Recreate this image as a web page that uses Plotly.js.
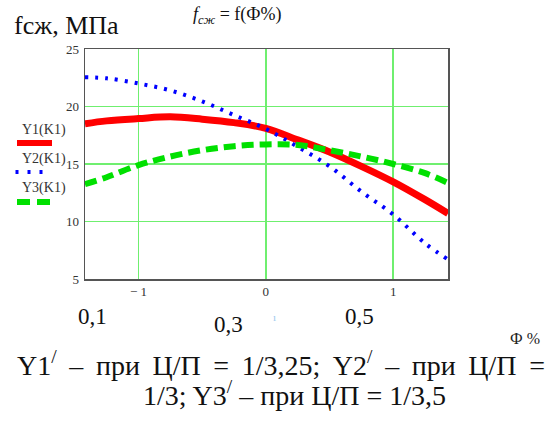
<!DOCTYPE html>
<html>
<head>
<meta charset="utf-8">
<script src="https://cdn.plot.ly/plotly-3.0.1.min.js"></script>
<style>
html,body{margin:0;padding:0;background:#fff;}
#chart{width:552px;height:423px;}
</style>
</head>
<body>
<div id="chart"></div>
<script>
// ---- data ----
const phi = [-1.42, -1.25, -1, -0.75, -0.5, -0.25, 0, 0.25, 0.5, 0.75, 1, 1.25, 1.43];
const Y1 = [18.5, 18.75, 18.95, 19.1, 18.9, 18.6, 18.1, 17.1, 16.05, 14.8, 13.45, 11.9, 10.7];
const Y2 = [22.55, 22.45, 22.0, 21.4, 20.45, 19.25, 18.05, 16.5, 14.8, 12.6, 10.6, 8.1, 6.7];
const Y3 = [13.25, 13.85, 14.9, 15.65, 16.2, 16.55, 16.7, 16.65, 16.2, 15.65, 15.0, 14.2, 13.35];
const seriesNames = ['Y1(K1)', 'Y2(K1)', 'Y3(K1)'];
const xTicks = [-1, 0, 1];
const yTicks = [5, 10, 15, 20, 25];
const bottomLabels = ['0,1', '0,3', '0,5'];

// ---- layout helpers (pixel -> paper) ----
const L = 85, R = 448, T = 49, B = 279;
const px = x => (x - L) / (R - L);
const py = y => (B - y) / (B - T);
const serif = '"Liberation Serif", "Times New Roman", Times, "DejaVu Serif", serif';
const ink = '#333333';
const js = s => s.split(' ').join(' \u2009'); // justified (stretched) spaces

const traces = [
  {x: phi, y: Y1, name: seriesNames[0], mode: 'lines', line: {color: '#ff0000', width: 7, shape: 'spline'}},
  {x: phi, y: Y2, name: seriesNames[1], mode: 'lines', line: {color: '#0000ff', width: 4, dash: '3px,7px', shape: 'spline'}},
  {x: phi, y: Y3, name: seriesNames[2], mode: 'lines', line: {color: '#00e000', width: 6, dash: '12px,6px', shape: 'spline'}}
];

const ann = (x, y, text, size, extra) => Object.assign({
  xref: 'paper', yref: 'paper', x: px(x), y: py(y), text: text, showarrow: false,
  xanchor: 'center', yanchor: 'middle', font: {family: serif, size: size, color: ink}
}, extra || {});

const annotations = [
  ann(66, 26, 'fсж, МПа', 26, {font: {family: serif, size: 26, color: '#111'}}),
  ann(237, 16, '<i>f<sub>сж</sub></i> = f(Ф%)', 18, {font: {family: serif, size: 18, color: '#111'}}),
  ann(44, 130, seriesNames[0], 14),
  ann(44, 159, seriesNames[1], 14),
  ann(44, 188, seriesNames[2], 14),
  ann(92, 316, bottomLabels[0], 23, {font: {family: serif, size: 23, color: '#111'}}),
  ann(228, 324, bottomLabels[1], 23, {font: {family: serif, size: 23, color: '#111'}}),
  ann(359, 316, bottomLabels[2], 23, {font: {family: serif, size: 23, color: '#111'}}),
  ann(274, 317, 'ı', 11, {font: {family: serif, size: 11, color: '#9cc8ee'}}),
  ann(525, 338, 'Ф %', 16, {font: {family: serif, size: 16, color: '#222'}}),
  ann(15, 364, js('Y1<sup>/</sup> – при Ц/П = 1/3,25; Y2<sup>/</sup> – при Ц/П ='), 28, {xanchor: 'left', font: {family: serif, size: 28, color: '#111'}}),
  ann(294, 393, '1/3; Y3<sup>/</sup> – при Ц/П = 1/3,5', 28, {font: {family: serif, size: 28, color: '#111'}})
];

const shapes = [
  {type: 'line', xref: 'paper', yref: 'paper', x0: px(17), x1: px(52), y0: py(143), y1: py(143), line: {color: '#ff0000', width: 6}},
  {type: 'line', xref: 'paper', yref: 'paper', x0: px(15.5), x1: px(43), y0: py(172), y1: py(172), line: {color: '#0000ff', width: 4, dash: '3px,9px'}},
  {type: 'line', xref: 'paper', yref: 'paper', x0: px(17), x1: px(50), y0: py(202), y1: py(202), line: {color: '#00e000', width: 6, dash: '13px,7px'}}
];

const layout = {
  width: 552, height: 423,
  margin: {l: L, r: 552 - R, t: T, b: 423 - B, pad: 0},
  paper_bgcolor: '#fff', plot_bgcolor: '#fff',
  showlegend: false,
  font: {family: serif},
  xaxis: {
    range: [-1.42, 1.43], tickvals: xTicks, ticktext: xTicks.map(v => v < 0 ? '− ' + Math.abs(v) : String(v)),
    showgrid: true, gridcolor: '#6fef6f', gridwidth: 1.5, zeroline: false,
    showline: true, mirror: true, linecolor: '#555', linewidth: 1.5,
    ticks: '', tickfont: {family: serif, size: 13, color: ink}
  },
  yaxis: {
    range: [5, 25], tickvals: yTicks,
    showgrid: true, gridcolor: '#6fef6f', gridwidth: 1.5, zeroline: false,
    showline: true, mirror: true, linecolor: '#555', linewidth: 1.5,
    ticks: 'outside', ticklen: 2, tickcolor: 'rgba(0,0,0,0)',
    tickfont: {family: serif, size: 13, color: ink}
  },
  annotations: annotations,
  shapes: shapes
};

Plotly.newPlot('chart', traces, layout, {staticPlot: true, displayModeBar: false});
</script>
</body>
</html>
